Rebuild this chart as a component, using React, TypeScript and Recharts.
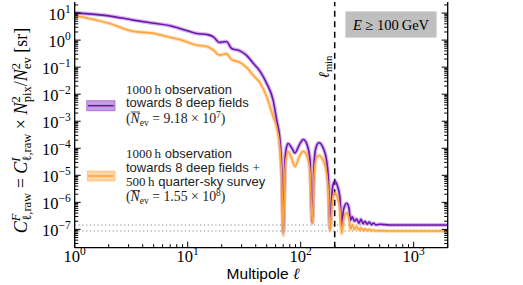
import { LineChart, Line, XAxis, YAxis, ReferenceLine } from 'recharts'

// multipole values (shared by both curves)
const ELL = [
  1, 2, 3.3, 5, 7, 8.5, 12, 15, 17, 19, 22, 24.5, 29, 33, 38, 44, 50, 57, 61.3, 65.6, 68.3,
  70.2, 72.6, 74.9, 77.6, 82.9, 89, 96.6, 105.4, 113.7, 120.9, 126.7, 131.2, 136.5, 145,
  157.5, 169, 176, 181.7, 187.4, 193, 201, 212, 222.7, 230.6, 239, 255, 267.5, 276, 286,
  299, 313, 328, 342, 356, 371, 386, 405, 423, 441, 464, 503, 617, 2000,
]

// 1000 h towards 8 deep fields
const FIELDS_ONLY = [
  10.2, 7.9, 5.5, 4.2, 3.4, 2.7, 1.77, 1.6, 1.3, 0.82, 0.89, 0.49, 0.4, 0.28, 0.14, 0.067,
  0.025, 0.006, 0.0011, 2e-4, 1e-5,
  8e-8, 3.7e-5, 1.1e-4, 1.5e-4, 1.07e-4, 6.7e-5, 1.26e-4, 2.1e-4, 1.37e-4, 3.8e-5, 1.8e-7,
  2.5e-5, 1.05e-4, 1.6e-4, 1.06e-4, 3.8e-5, 6.8e-6, 1.1e-7, 1.2e-6, 4.4e-6, 6e-6, 3.9e-6,
  1.45e-6, 1.3e-7, 5.2e-7, 9.2e-7, 6.2e-7, 2.2e-7, 2.9e-7, 2e-7, 2.4e-7, 1.7e-7, 2.35e-7,
  1.64e-7, 2e-7, 1.57e-7, 1.86e-7, 1.5e-7, 1.7e-7, 1.47e-7, 1.55e-7, 1.45e-7, 1.45e-7,
]

// 1000 h deep fields + 500 h quarter-sky survey
const WITH_SURVEY = [
  8.2, 4.2, 2.1, 1.78, 1.26, 1.05, 0.65, 0.57, 0.42, 0.28, 0.31, 0.19, 0.15, 0.1, 0.05, 0.025,
  0.008, 0.0015, 6e-4, 9e-5, 4.4e-6,
  6e-8, 1.5e-5, 5e-5, 7.4e-5, 4.3e-5, 2.1e-5, 4.7e-5, 7.7e-5, 5.1e-5, 1.4e-5, 1.7e-7,
  9e-6, 3.9e-5, 5.4e-5, 3.7e-5, 1.3e-5, 2.4e-6, 9e-8, 4.4e-7, 1.6e-6, 2.2e-6, 1.45e-6,
  5.4e-7, 7e-8, 2.2e-7, 4e-7, 2.7e-7, 1e-7, 1.5e-7, 1e-7, 1.25e-7, 9.5e-8, 1.15e-7,
  9e-8, 1.05e-7, 9e-8, 1e-7, 8.8e-8, 9.5e-8, 8.7e-8, 9e-8, 8.7e-8, 8.7e-8,
]

const NOISE_FIELDS = 1.45e-7
const NOISE_SURVEY = 8.7e-8
const ELL_MIN = 200

const X_MAJOR = [1, 10, 100, 1000]
const X_EXP = ['0', '1', '2', '3']
const Y_MAJOR = [1e-7, 1e-6, 1e-5, 1e-4, 1e-3, 1e-2, 1e-1, 1, 10]
const Y_EXP = ['\u22127', '\u22126', '\u22125', '\u22124', '\u22123', '\u22122', '\u22121', '0', '1']

const X_DOMAIN = [1, 2000]
const Y_DOMAIN = [2.1e-8, 25.7]

const PURPLE = '#6c14b4'
const ORANGE = '#ffa33c'
const SERIF = '"Liberation Serif", "DejaVu Serif", serif'
const SANS = '"Liberation Sans", Arial, sans-serif'

function logTicks(lo: number, hi: number) {
  const out: number[] = []
  for (let e = Math.floor(Math.log10(lo)); e <= Math.ceil(Math.log10(hi)); e++) {
    for (let m = 1; m <= 9; m++) {
      const v = m === 1 ? Math.pow(10, e) : m * Math.pow(10, e)
      if (v >= lo && v <= hi) out.push(m === 1 ? majorOf(v) : v)
    }
  }
  return out
}
// snap decade values onto the exact constants so the tick lookup matches
function majorOf(v: number) {
  const hit = [...X_MAJOR, ...Y_MAJOR].find(m => Math.abs(m - v) / m < 1e-9)
  return hit ?? v
}

const X_TICKS = logTicks(X_DOMAIN[0], X_DOMAIN[1])
const Y_TICKS = logTicks(Y_DOMAIN[0], Y_DOMAIN[1])

const data = ELL.map((ell, i) => ({ ell, fields: FIELDS_ONLY[i], survey: WITH_SURVEY[i] }))

const BottomTick = ({ x, y, payload }: any) => {
  const i = X_MAJOR.indexOf(payload.value)
  return (
    <g>
      <line x1={x} x2={x} y1={y} y2={y - (i >= 0 ? 6 : 3.5)} stroke="#000" strokeWidth={1} />
      {i >= 0 && (
        <text x={x} y={y + 14.5} textAnchor="middle" fontFamily={SERIF} fontSize={16.5} fill="#000">
          10<tspan fontSize={11.5} dy={-7}>{X_EXP[i]}</tspan>
        </text>
      )}
    </g>
  )
}

const TopTick = ({ x, y, payload }: any) => {
  const major = X_MAJOR.includes(payload.value)
  return <line x1={x} x2={x} y1={y} y2={y + (major ? 6 : 3.5)} stroke="#000" strokeWidth={1} />
}

const LeftTick = ({ x, y, payload }: any) => {
  const i = Y_MAJOR.indexOf(payload.value)
  return (
    <g>
      <line x1={x} x2={x + (i >= 0 ? 6 : 3.5)} y1={y} y2={y} stroke="#000" strokeWidth={1} />
      {i >= 0 && (
        <text x={x - 4} y={y + 6.5} textAnchor="end" fontFamily={SERIF} fontSize={16.5} fill="#000">
          10<tspan fontSize={11.5} dy={-7}>{Y_EXP[i]}</tspan>
        </text>
      )}
    </g>
  )
}

const RightTick = ({ x, y, payload }: any) => {
  const major = Y_MAJOR.includes(payload.value)
  return <line x1={x} x2={x - (major ? 6 : 3.5)} y1={y} y2={y} stroke="#000" strokeWidth={1} />
}

const frame = { stroke: '#000', strokeWidth: 1.3 }

function Overlay() {
  const pre = { whiteSpace: 'pre' as const }
  return (
    <svg width={523} height={285} style={{ position: 'absolute', left: 0, top: 0, pointerEvents: 'none' }}>
      {/* y label */}
      <text transform="translate(27,130.5) rotate(-90)" textAnchor="middle" fontFamily={SERIF} fontSize={18} fill="#000" style={pre}>
        <tspan fontStyle="italic">C</tspan>
        <tspan fontSize={12.5} fontStyle="italic" dy={-7}>F</tspan>
        <tspan fontSize={12.5} dx={-7} dy={11}>ℓ,raw</tspan>
        <tspan dy={-4}>{' = '}</tspan>
        <tspan fontStyle="italic">C</tspan>
        <tspan fontSize={12.5} fontStyle="italic" dy={-7}>I</tspan>
        <tspan fontSize={12.5} dx={-4} dy={11}>ℓ,raw</tspan>
        <tspan dy={-4}>{' × '}</tspan>
        <tspan fontStyle="italic">N</tspan>
        <tspan fontSize={12.5} dy={-7}>2</tspan>
        <tspan fontSize={12.5} dx={-6} dy={11}>pix</tspan>
        <tspan dy={-4}>/</tspan>
        <tspan fontStyle="italic">N</tspan>
        <tspan fontSize={12.5} dy={-7}>2</tspan>
        <tspan fontSize={12.5} dx={-6} dy={11}>ev</tspan>
        <tspan dy={-4}>{' [sr]'}</tspan>
      </text>

      {/* x label */}
      <text x={263} y={279} textAnchor="middle" fontFamily={SANS} fontSize={15.5} fill="#000" style={pre}>
        {'Multipole '}<tspan fontFamily={SERIF} fontStyle="italic">ℓ</tspan>
      </text>

      {/* energy box */}
      <rect x={345.7} y={11.7} width={90.6} height={25.6} fill="#bfbfbf" stroke="#d0d0d0" strokeWidth={0.8} />
      <text x={391} y={29.5} textAnchor="middle" fontFamily={SERIF} fontSize={14.5} fill="#000" style={pre}>
        <tspan fontStyle="italic">E</tspan>{' ≥ 100\u2009GeV'}
      </text>

      {/* ell_min label */}
      <text transform="translate(329,67) rotate(-90)" textAnchor="middle" fontFamily={SERIF} fontSize={15} fill="#000">
        <tspan fontStyle="italic">ℓ</tspan>
        <tspan fontSize={10.5} dy={2.5}>min</tspan>
      </text>

      {/* legend entry 1 */}
      <rect x={86.7} y={100.7} width={28.3} height={10} fill={PURPLE} fillOpacity={0.4} stroke={PURPLE} strokeOpacity={0.45} strokeWidth={1} />
      <line x1={88} x2={113.7} y1={105.7} y2={105.7} stroke={PURPLE} strokeWidth={1.6} />
      <g fontSize={13} fill="#222" style={pre}>
        <text x={126} y={93.5} fontFamily={SANS}>
          <tspan fontFamily={SERIF}>{'1000\u2009h'}</tspan>{' observation'}
        </text>
        <text x={126} y={107.3} fontFamily={SANS}>towards 8 deep fields</text>
        <text x={126} y={122.7} fontFamily={SERIF} fontSize={13.8}>
          {'('}<tspan fontStyle="italic">N</tspan>
          <tspan fontSize={9.5} dy={3}>ev</tspan>
          <tspan dy={-3}>{' = 9.18 × 10'}</tspan>
          <tspan fontSize={9.5} dy={-5}>7</tspan>
          <tspan dy={5}>)</tspan>
        </text>
        <line x1={130.5} x2={140} y1={112} y2={112} stroke="#222" strokeWidth={0.8} />
      </g>

      {/* legend entry 2 */}
      <rect x={87.3} y={171} width={27.7} height={10} fill={ORANGE} fillOpacity={0.45} stroke={ORANGE} strokeOpacity={0.5} strokeWidth={1} />
      <line x1={88.5} x2={113.7} y1={176} y2={176} stroke={ORANGE} strokeWidth={1.6} />
      <g fontSize={13} fill="#222" style={pre}>
        <text x={126} y={157.5} fontFamily={SANS}>
          <tspan fontFamily={SERIF}>{'1000\u2009h'}</tspan>{' observation'}
        </text>
        <text x={126} y={171.6} fontFamily={SANS}>
          {'towards 8 deep fields '}<tspan fontFamily={SERIF}>+</tspan>
        </text>
        <text x={126} y={185.7} fontFamily={SANS}>
          <tspan fontFamily={SERIF}>{'500\u2009h'}</tspan>{' quarter-sky survey'}
        </text>
        <text x={126} y={201.2} fontFamily={SERIF} fontSize={13.8}>
          {'('}<tspan fontStyle="italic">N</tspan>
          <tspan fontSize={9.5} dy={3}>ev</tspan>
          <tspan dy={-3}>{' = 1.55 × 10'}</tspan>
          <tspan fontSize={9.5} dy={-5}>8</tspan>
          <tspan dy={5}>)</tspan>
        </text>
        <line x1={130.5} x2={140} y1={190.5} y2={190.5} stroke="#222" strokeWidth={0.8} />
      </g>
    </svg>
  )
}

export default function App() {
  return (
    <div style={{ position: 'absolute', left: 0, top: 0, width: 523, height: 285, background: '#fff' }}>
      <LineChart width={523} height={285} data={data} margin={{ top: 2, right: 0, bottom: 0, left: 0 }}>
        <XAxis
          dataKey="ell" type="number" scale="log" domain={X_DOMAIN} ticks={X_TICKS} interval={0}
          allowDataOverflow height={37.3} tickSize={0} tickMargin={0} tickLine={false}
          axisLine={frame} tick={BottomTick}
        />
        <XAxis
          xAxisId="top" orientation="top" dataKey="ell" type="number" scale="log" domain={X_DOMAIN}
          ticks={X_TICKS} interval={0} allowDataOverflow height={0} tickSize={0} tickMargin={0}
          tickLine={false} axisLine={frame} tick={TopTick}
        />
        <YAxis
          type="number" scale="log" domain={Y_DOMAIN} ticks={Y_TICKS} interval={0} allowDataOverflow
          width={74.7} tickSize={0} tickMargin={0} tickLine={false} axisLine={frame} tick={LeftTick}
        />
        <YAxis
          yAxisId="right" orientation="right" type="number" scale="log" domain={Y_DOMAIN} ticks={Y_TICKS}
          interval={0} allowDataOverflow width={75.3} tickSize={0} tickMargin={0} tickLine={false}
          axisLine={frame} tick={RightTick}
        />
        <ReferenceLine y={NOISE_FIELDS} stroke="#888" strokeWidth={1.2} strokeDasharray="1.2 2.6" />
        <ReferenceLine y={NOISE_SURVEY} stroke="#888" strokeWidth={1.2} strokeDasharray="1.2 2.6" />
        <ReferenceLine x={ELL_MIN} stroke="#000" strokeWidth={1.5} strokeDasharray="6 4.5" />
        <Line dataKey="fields" type="monotone" stroke={PURPLE} strokeOpacity={0.3} strokeWidth={4} dot={false} isAnimationActive={false} />
        <Line dataKey="survey" type="monotone" stroke={ORANGE} strokeOpacity={0.35} strokeWidth={4} dot={false} isAnimationActive={false} />
        <Line dataKey="fields" type="monotone" stroke={PURPLE} strokeWidth={1.6} dot={false} isAnimationActive={false} />
        <Line dataKey="survey" type="monotone" stroke={ORANGE} strokeWidth={1.6} dot={false} isAnimationActive={false} />
      </LineChart>
      <Overlay />
    </div>
  )
}
